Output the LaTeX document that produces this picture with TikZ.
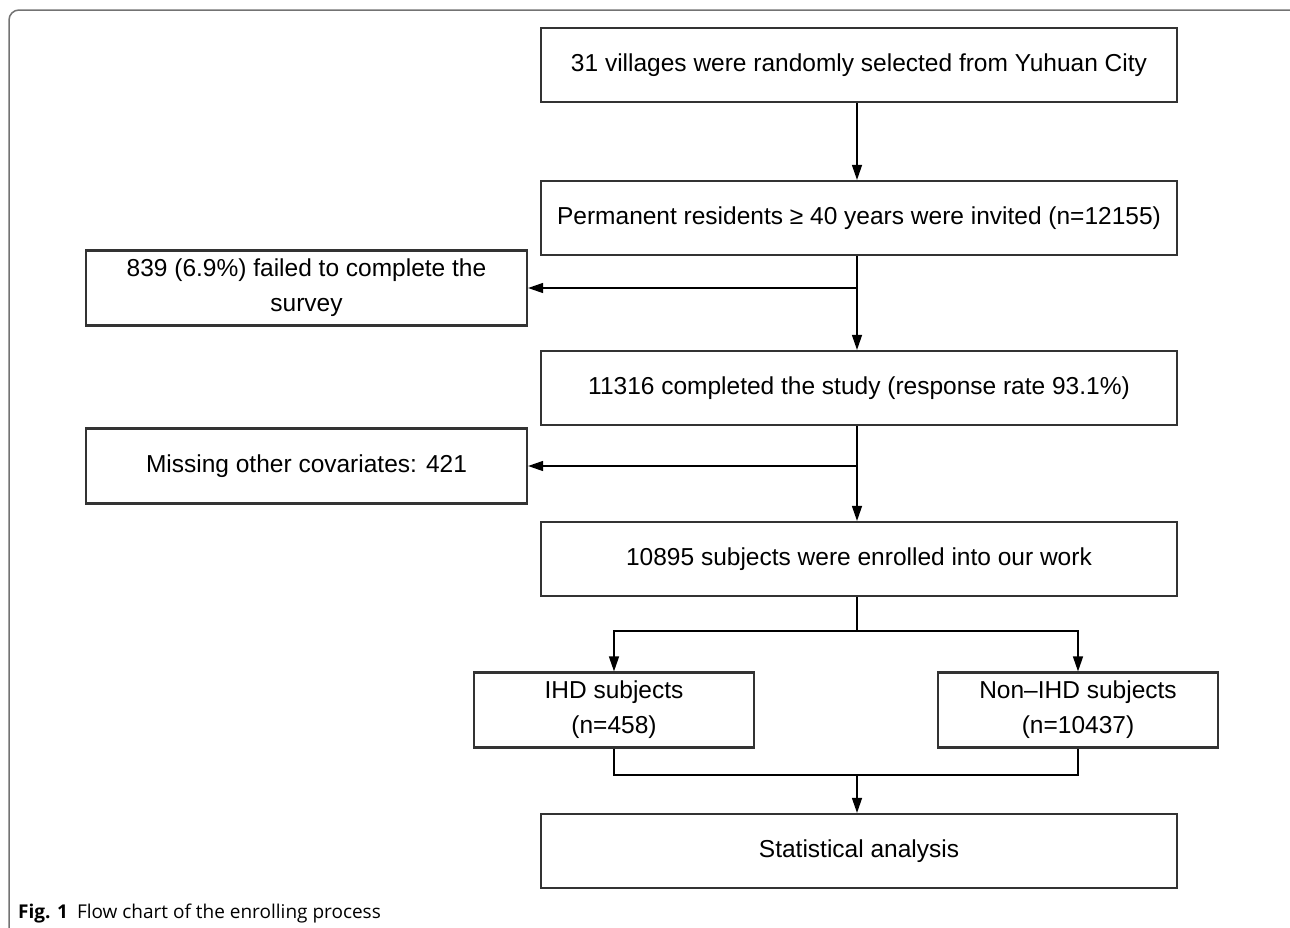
\documentclass[tikz,border=0pt]{standalone}
\usepackage{fontspec}
\setmainfont{Liberation Sans}
\newfontfamily\capfont{Open Sans}
\usetikzlibrary{arrows.meta}

\begin{document}
\begin{tikzpicture}[x=1pt,y=-1pt,
  box/.style={draw=black!80, line width=2.2pt, minimum width=636pt, minimum height=74pt,
    inner sep=0pt, align=center, font=\fontsize{24.5}{35}\selectfont},
  sidebox/.style={box, minimum width=441pt, minimum height=75pt},
  groupbox/.style={box, minimum width=280pt, minimum height=75pt},
  arrow/.style={line width=1.4pt, -{Triangle[length=15pt,width=10pt]}},
  link/.style={line width=1.4pt}]
% Parameters
\def\xmain{859}; \def\xside{306.5};
\def\xsplit{857}; \def\ysplit{631}; \def\ymerge{775};

\useasboundingbox (0,0) rectangle (1290,927);

% Frame
\draw[black!55, line width=1.5pt, rounded corners=10pt] (9,10) rectangle (1300,938);

% Boxes
\node[box] (villages) at (\xmain,65) {31 villages were randomly selected from Yuhuan City};
\node[box] (invited) at (\xmain,218) {Permanent residents ≥ 40 years were invited (n=12155)};
\node[sidebox] (failed) at (\xside,288) {839 (6.9\%) failed to complete the\\survey};
\node[box] (completed) at (\xmain,388) {11316 completed the study (response rate 93.1\%)};
\node[sidebox] (missing) at (\xside,466) {Missing other covariates: 421};
\node[box] (enrolled) at (\xmain,559) {10895 subjects were enrolled into our work};
\node[groupbox] (ihd) at (614,710) {IHD subjects\\(n=458)};
\node[groupbox] (nonihd) at (1078,710) {Non--IHD subjects\\(n=10437)};
\node[box] (stats) at (\xmain,851) {Statistical analysis};

% Connectors
\coordinate (split) at (\xsplit,\ysplit);
\coordinate (merge) at (\xsplit,\ymerge);
\draw[arrow] (villages.south -| \xsplit,0) -- (invited.north -| \xsplit,0);
\draw[arrow] (invited.south -| \xsplit,0) -- (completed.north -| \xsplit,0);
\draw[arrow] (\xsplit,288) -- (failed.east);
\draw[arrow] (completed.south -| \xsplit,0) -- (enrolled.north -| \xsplit,0);
\draw[arrow] (\xsplit,466) -- (missing.east);
\draw[link] (enrolled.south -| split) -- (split);
\draw[arrow] (split) -| (ihd.north);
\draw[arrow] (split) -| (nonihd.north);
\draw[link] (ihd.south) |- (merge) -| (nonihd.south);
\draw[arrow] (merge) -- (stats.north -| merge);

% Caption
\node[anchor=base west, inner sep=0pt, font=\capfont\fontsize{19}{22}\selectfont] (caption) at (18,918)
  {\textbf{Fig. 1}\hspace{9pt}Flow chart of the enrolling process};
\end{tikzpicture}
\end{document}
